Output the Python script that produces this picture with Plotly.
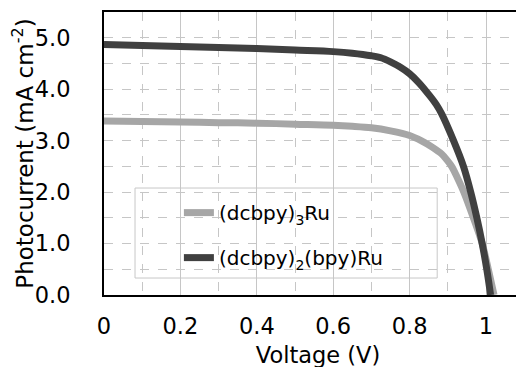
import plotly.graph_objects as go

# ---- data ----
v_light = [0, 0.1, 0.2, 0.3, 0.4, 0.5, 0.6, 0.65, 0.7, 0.75, 0.8, 0.83, 0.86, 0.884, 0.897, 0.91, 0.925, 0.942, 0.967, 0.99, 1.006, 1.021]
i_light = [3.38, 3.37, 3.36, 3.35, 3.34, 3.32, 3.30, 3.28, 3.25, 3.19, 3.10, 3.00, 2.87, 2.74, 2.63, 2.50, 2.28, 2.00, 1.50, 1.00, 0.50, 0.0]

v_dark = [0, 0.1, 0.2, 0.3, 0.4, 0.5, 0.6, 0.65, 0.7, 0.725, 0.75, 0.775, 0.8, 0.825, 0.853, 0.87, 0.884, 0.915, 0.941, 0.96, 0.976, 0.99, 1.002, 1.012]
i_dark = [4.87, 4.85, 4.83, 4.81, 4.79, 4.76, 4.73, 4.70, 4.65, 4.61, 4.53, 4.43, 4.30, 4.12, 3.87, 3.70, 3.52, 3.00, 2.50, 2.00, 1.50, 1.00, 0.50, 0.0]

name_light = "(dcbpy)<sub>3</sub>Ru"
name_dark = "(dcbpy)<sub>2</sub>(bpy)Ru"

x_title = "Voltage (V)"
y_title = "Photocurrent (mA cm<sup>-2</sup>)"

FONT = "DejaVu Sans"

fig = go.Figure()
fig.add_trace(go.Scatter(x=v_light, y=i_light, mode="lines", name=name_light,
                         line=dict(color="#a6a6a6", width=7, shape="spline", smoothing=0.9),
                         legendgroup="a"))
fig.add_trace(go.Scatter(x=v_dark, y=i_dark, mode="lines", name=name_dark,
                         line=dict(color="#404040", width=7, shape="spline", smoothing=0.9),
                         legendgroup="b"))

grid_c = "#c6c6c6"
fig.update_layout(
    width=524, height=367,
    margin=dict(l=96, r=0, t=4, b=80),
    paper_bgcolor="white", plot_bgcolor="white",
    font=dict(family=FONT, size=22, color="black"),
    showlegend=True,
    legend=dict(x=0.175, y=0.36, xanchor="left", yanchor="top",
                bgcolor="rgba(0,0,0,0)", borderwidth=0, itemwidth=30,
                font=dict(family=FONT, size=20, color="black"),
                tracegroupgap=16, traceorder="grouped"),
    xaxis=dict(range=[0, 1.1204], dtick=0.2, tick0=0, showgrid=True, gridcolor=grid_c, gridwidth=1,
               showline=True, linecolor="black", linewidth=2, mirror=True,
               ticks="", ticklabelstandoff=10, zeroline=False, automargin=False,
               tickfont=dict(size=22.5),
               minor=dict(dtick=0.1, tick0=0, showgrid=True, gridcolor=grid_c, griddash="dash", gridwidth=1),
               title=dict(text=x_title, font=dict(size=22.5), standoff=9)),
    yaxis=dict(range=[0, 5.5], dtick=1, tick0=0, tickformat=".1f", showgrid=True, gridcolor=grid_c,
               griddash="dash", gridwidth=1,
               showline=True, linecolor="black", linewidth=2, mirror=False,
               ticks="", ticklabelstandoff=27, zeroline=False, automargin=False,
               tickfont=dict(size=22.5),
               minor=dict(dtick=0.5, tick0=0, showgrid=True, gridcolor=grid_c, gridwidth=1),
               title=dict(text=y_title, font=dict(size=23), standoff=2)),
    shapes=[dict(type="rect", xref="paper", yref="paper", x0=0.0725, x1=0.7785, y0=0.06, y1=0.378,
                 fillcolor="white", line=dict(color="#c8c8c8", width=1), layer="below")],
)

fig.write_html("out.html")
